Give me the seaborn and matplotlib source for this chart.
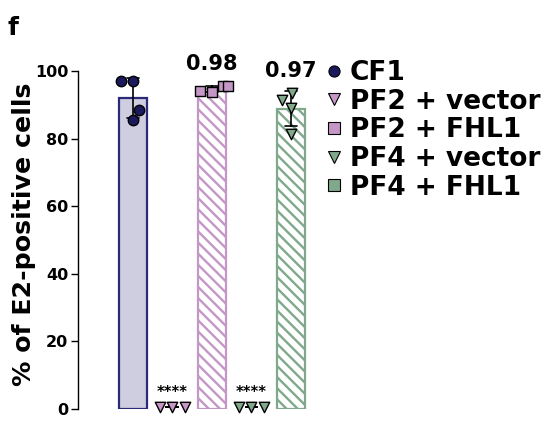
import pandas as pd
import numpy as np
import matplotlib
matplotlib.use("Agg")
import matplotlib.pyplot as plt
from matplotlib.lines import Line2D
import seaborn as sns

sns.set_style("ticks")
plt.rcParams["font.family"] = ["DejaVu Sans"]
plt.rcParams["font.weight"] = "bold"
plt.rcParams["text.color"] = "black"
plt.rcParams["ytick.color"] = "black"
plt.rcParams["hatch.linewidth"] = 1.7

# ==============================
# DATA
# ==============================
groups = ["CF1", "PF2 + vector", "PF2 + FHL1", "PF4 + vector", "PF4 + FHL1"]
cf1 = [97.0, 97.0, 88.5, 85.5]
pf2_vector = [0.5, 0.5, 0.5]
pf2_fhl1 = [95.5, 94.0, 95.5, 93.8]
pf4_vector = [0.5, 0.5, 0.5]
pf4_fhl1 = [93.5, 91.5, 89.0, 81.5]
p_labels = ["", "****", "0.98", "****", "0.97"]

values = [cf1, pf2_vector, pf2_fhl1, pf4_vector, pf4_fhl1]
df = pd.DataFrame({
    "group": [g for g, v in zip(groups, values) for _ in v],
    "pct": [x for v in values for x in v],
})

# ==============================
# STYLE
# ==============================
navy = "#1b1a5c"
mauve = "#c497c6"
green = "#80a98b"
point_colors = [navy, mauve, mauve, green, green]
point_markers = ["o", "v", "s", "v", "v"]
bar_face = ["#cfcde0", "none", "white", "none", "white"]
bar_edge = ["#2b2a78", "none", mauve, "none", green]
bar_hatch = [None, None, "\\" * 3, None, "\\" * 3]

fig = plt.figure(figsize=(5.55, 4.3), dpi=100)
ax = fig.add_axes([0.1405, 0.0488, 0.43, 0.786])

sns.barplot(data=df, x="group", y="pct", order=groups, errorbar="sd",
            capsize=0.3, width=0.69, err_kws={"linewidth": 1.2, "color": "black"},
            ax=ax)

for i, patch in enumerate(ax.patches):
    if groups[i].endswith("vector"):
        patch.set_visible(False)
        continue
    patch.set_facecolor(bar_face[i])
    patch.set_edgecolor(bar_edge[i])
    patch.set_linewidth(1.6)
    if bar_hatch[i]:
        patch.set_hatch(bar_hatch[i])

for g, col, mk in zip(groups, point_colors, point_markers):
    sub = df[df["group"] == g]
    sns.swarmplot(data=sub, x="group", y="pct", order=groups, color=col,
                  marker=mk, size=7.5, linewidth=1, edgecolor="black",
                  ax=ax, clip_on=False, zorder=5)

for i, lab in enumerate(p_labels):
    if lab == "****":
        ax.text(i, 5.0, lab, ha="center", va="center", fontsize=10.5, fontweight="bold")
    elif lab:
        top = max(values[i])
        ax.text(i, top + 4.8, lab, ha="center", va="baseline", fontsize=15, fontweight="bold")

ax.set_ylim(0, 100)
ax.set_xlim(-1.39, 4.65)
ax.set_yticks([0, 20, 40, 60, 80, 100])
ax.tick_params(axis="y", labelsize=11.5, length=5, width=1, pad=2, colors="black")
ax.set_xticks([])
ax.set_xlabel("")
ax.set_ylabel("")
for t in ax.get_yticklabels():
    t.set_fontweight("bold")
sns.despine(ax=ax, bottom=True)
ax.spines["left"].set_linewidth(1)
ax.spines["left"].set_color("black")

fig.text(0.044, 0.456, "% of E2-positive cells", rotation=90, ha="center",
         va="center", fontsize=18.2, fontweight="bold")
fig.text(0.014, 0.935, "f", fontsize=18, fontweight="bold", va="center")

legend_markers = ["o", "v", "s", "v", "s"]
handles = [Line2D([], [], linestyle="none", marker=m, markersize=8,
                  markerfacecolor=c, markeredgecolor="black", markeredgewidth=0.8)
           for m, c in zip(legend_markers, point_colors)]
fig.legend(handles, groups, loc="upper left", bbox_to_anchor=(326 / 555, 1 - 60 / 430),
           frameon=False, borderpad=0, borderaxespad=0, handlelength=0.6,
           handletextpad=0.3, labelspacing=0.1,
           prop={"size": 19, "weight": "bold"})

plt.savefig("out.png", dpi=100)
